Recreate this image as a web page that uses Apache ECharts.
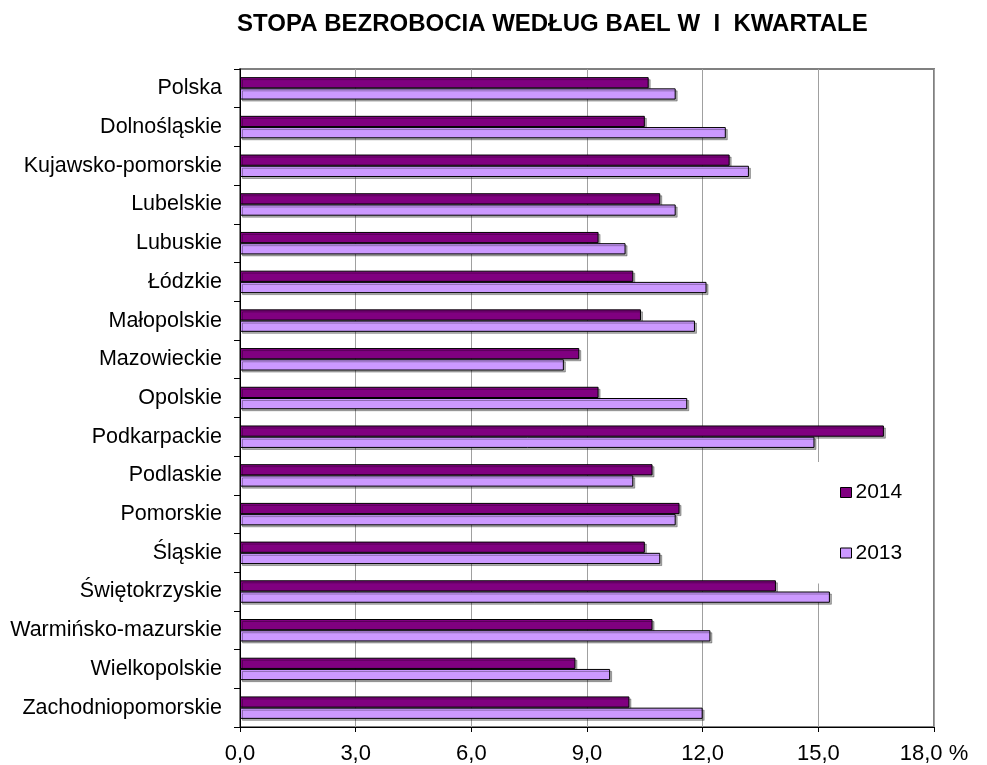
<!DOCTYPE html>
<html>
<head>
<meta charset="utf-8">
<script src="https://cdn.jsdelivr.net/npm/echarts@6/dist/echarts.min.js"></script>
<style>html,body{margin:0;padding:0;background:#fff}#c{width:987px;height:765px}</style>
</head>
<body>
<div id="c"></div>
<script>
const categories = ['Polska','Dolnośląskie','Kujawsko-pomorskie','Lubelskie','Lubuskie','Łódzkie','Małopolskie','Mazowieckie','Opolskie','Podkarpackie','Podlaskie','Pomorskie','Śląskie','Świętokrzyskie','Warmińsko-mazurskie','Wielkopolskie','Zachodniopomorskie'];
const values2014 = [10.6,10.5,12.7,10.9,9.3,10.2,10.4,8.8,9.3,16.7,10.7,11.4,10.5,13.9,10.7,8.7,10.1];
const values2013 = [11.3,12.6,13.2,11.3,10.0,12.1,11.8,8.4,11.6,14.9,10.2,11.3,10.9,15.3,12.2,9.6,12.0];
const tickLabels = ['0,0','3,0','6,0','9,0','12,0','15,0','18,0 %'];
const titleText = 'STOPA BEZROBOCIA WEDŁUG BAEL W  I  KWARTALE';

const FONT = '"Liberation Sans", Arial, sans-serif';
const chart = echarts.init(document.getElementById('c'), null, {renderer:'canvas'});
chart.setOption({
  animation: false,
  backgroundColor: '#fff',
  title: {
    text: titleText, left: 232, top: 7,
    textStyle: {fontFamily: FONT, fontWeight: 'bold', fontSize: 24, color: '#000'}
  },
  legend: {
    orient: 'vertical', left: 814, top: 462,
    padding: [20, 20, 20, 26],
    backgroundColor: '#fff',
    itemWidth: 11, itemHeight: 10, itemGap: 39.5,
    icon: 'rect',
    itemStyle: {shadowColor: 'rgba(0,0,0,0)', borderColor: '#000', borderWidth: 1},
    textStyle: {fontFamily: FONT, fontSize: 21, color: '#000', padding: [0,0,0,-1]},
    data: ['2014','2013']
  },
  grid: {left: 240, right: 53, top: 69, bottom: 37, show: true, borderColor: '#808080', borderWidth: 2, containLabel: false},
  xAxis: {
    type: 'value', min: 0, max: 18, interval: 3,
    axisLine: {show: true, lineStyle: {color: '#000', width: 1}},
    axisTick: {show: true, length: 5, lineStyle: {color: '#000'}},
    splitLine: {show: true, lineStyle: {color: '#a0a0a0', width: 1}},
    axisLabel: {
      margin: 16, fontFamily: FONT, fontSize: 22, color: '#000',
      formatter: v => tickLabels[Math.round(v / 3)]
    }
  },
  yAxis: {
    type: 'category', inverse: true, data: categories,
    axisLine: {show: true, lineStyle: {color: '#000', width: 1}},
    axisTick: {show: true, length: 6, inside: false, alignWithLabel: false, lineStyle: {color: '#000'}},
    axisLabel: {margin: 18, fontFamily: FONT, fontSize: 21.5, color: '#000'},
    splitLine: {show: false}
  },
  series: [
    {
      name: '2014', type: 'bar', data: values2014,
      barGap: '0%', barCategoryGap: '42%',
      itemStyle: {color: '#800080', borderColor: '#000', borderWidth: 1, shadowColor: 'rgba(0,0,0,0.3)', shadowOffsetX: 2, shadowOffsetY: 2, shadowBlur: 0}
    },
    {
      name: '2013', type: 'bar', data: values2013,
      barGap: '0%', barCategoryGap: '42%',
      itemStyle: {color: '#CC99FF', borderColor: '#000', borderWidth: 1, shadowColor: 'rgba(0,0,0,0.3)', shadowOffsetX: 2, shadowOffsetY: 2, shadowBlur: 0}
    }
  ]
});
</script>
</body>
</html>
